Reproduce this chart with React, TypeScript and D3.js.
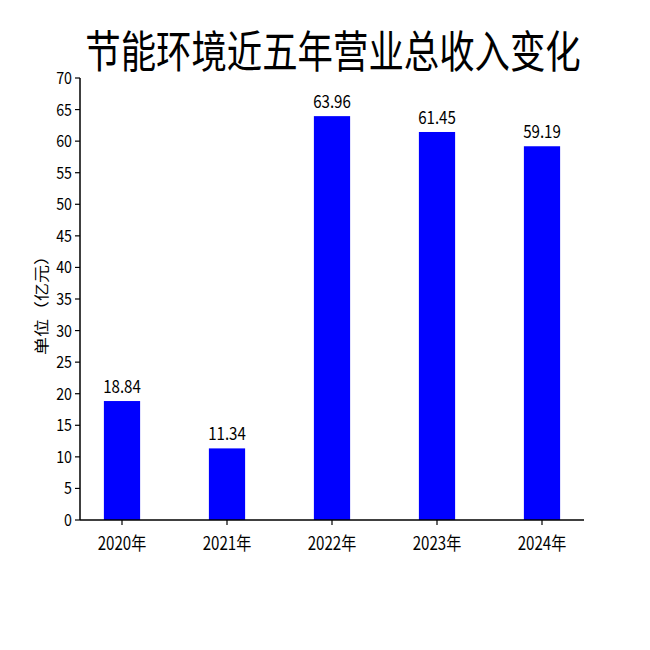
import React from "react";
import * as d3 from "d3";

const TITLE = "节能环境近五年营业总收入变化";
const Y_LABEL = "单位（亿元）";
const YEARS = ["2020年", "2021年", "2022年", "2023年", "2024年"];
const REVENUE = [18.84, 11.34, 63.96, 61.45, 59.19];
const Y_TICKS = [0, 5, 10, 15, 20, 25, 30, 35, 40, 45, 50, 55, 60, 65, 70];

const WIDTH = 650;
const HEIGHT = 650;
const MARGIN = { top: 78, right: 66, bottom: 130, left: 80 };
const FONT = "'Noto Sans CJK SC', 'Noto Sans', sans-serif";
const SQUEEZE = 0.84;

// condensed text, the reference uses a narrow face
const Squeezed = ({ x, y, size, anchor, children }: any) => (
  <text
    transform={`translate(${x},${y}) scale(${SQUEEZE},1)`}
    fontSize={size}
    textAnchor={anchor}
    fontFamily={FONT}
    fill="#000"
  >
    {children}
  </text>
);

export default function App() {
  const boundsWidth = WIDTH - MARGIN.left - MARGIN.right;
  const boundsHeight = HEIGHT - MARGIN.top - MARGIN.bottom;

  const xScale = d3.scalePoint<string>().domain(YEARS).range([0, boundsWidth]).padding(0.4);
  const barWidth = xScale.step() * 0.345;
  const yScale = d3.scaleLinear().domain([0, 70]).range([boundsHeight, 0]);

  return (
    <>
      <style>{`body{margin:0}`}</style>
      <svg width={WIDTH} height={HEIGHT} style={{ display: "block" }}>
        <rect width={WIDTH} height={HEIGHT} fill="#fff" />
        {/* tall narrow title: normal size stretched vertically */}
        <text
          transform={`translate(${WIDTH / 2 + 8},68) scale(1,1.25)`}
          fontSize={35.4}
          textAnchor="middle"
          fontFamily={FONT}
        >
          {TITLE}
        </text>
        <g transform={`translate(${MARGIN.left},${MARGIN.top})`}>
          {REVENUE.map((v, i) => {
            const cx = xScale(YEARS[i])!;
            return (
              <g key={YEARS[i]}>
                <rect
                  x={cx - barWidth / 2}
                  y={yScale(v)}
                  width={barWidth}
                  height={boundsHeight - yScale(v)}
                  fill="#0000ff"
                />
                <Squeezed x={cx} y={yScale(v) - 8} size={18} anchor="middle">
                  {v.toFixed(2)}
                </Squeezed>
              </g>
            );
          })}

          {/* y axis */}
          <line x1={0} x2={0} y1={0} y2={boundsHeight} stroke="#000" strokeWidth={1.5} />
          {Y_TICKS.map((t) => (
            <g key={t} transform={`translate(0,${yScale(t)})`}>
              <line x1={-5} x2={0} stroke="#000" strokeWidth={1.2} />
              <Squeezed x={-8} y={6} size={17} anchor="end">
                {t}
              </Squeezed>
            </g>
          ))}

          {/* x axis */}
          <line x1={0} x2={boundsWidth} y1={boundsHeight} y2={boundsHeight} stroke="#000" strokeWidth={1.5} />
          {YEARS.map((yr) => (
            <g key={yr} transform={`translate(${xScale(yr)},${boundsHeight})`}>
              <line y1={0} y2={5} stroke="#000" strokeWidth={1.2} />
              <Squeezed x={0} y={30} size={18} anchor="middle">
                {yr}
              </Squeezed>
            </g>
          ))}

          <text
            transform={`translate(${-33},${boundsHeight / 2 + 2}) rotate(-90) scale(1,0.85)`}
            fontSize={18}
            textAnchor="middle"
            fontFamily={FONT}
          >
            {Y_LABEL}
          </text>
        </g>
      </svg>
    </>
  );
}
